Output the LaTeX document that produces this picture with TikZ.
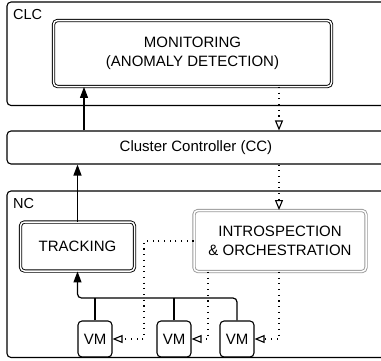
\documentclass[tikz,border=0pt]{standalone}
\usepackage{fontspec}
\setmainfont{Liberation Sans}
\usetikzlibrary{arrows.meta}
\begin{document}
\begin{tikzpicture}[x=1pt,y=-1pt,
  container/.style={draw, line width=1.1pt, rounded corners=4pt, inner sep=0pt},
  boxtext/.style={font=\fontsize{15}{19.5}\selectfont, align=center, inner sep=0pt},
  grouplabel/.style={font=\fontsize{14.5}{17}\selectfont, anchor=base west, inner sep=0pt},
  dblbox/.style={draw, line width=0.9pt, double, double distance=1.5pt, rounded corners=4pt,
    inner sep=0pt, font=\fontsize{15}{19.5}\selectfont, align=center},
  graydbl/.style={dblbox, draw=black!40},
  vmbox/.style={draw, line width=1.1pt, rounded corners=4pt, minimum width=34pt, minimum height=36pt,
    inner sep=0pt, font=\fontsize{15}{18}\selectfont},
  solidarrow/.style={line width=1.2pt, -{Triangle[length=11pt,width=8pt]}},
  dotarrow/.style={line width=1.1pt, dash pattern=on 1.1pt off 4.6pt,
    -{Triangle[open,length=10pt,width=8pt,line width=1.1pt]}},
]
\useasboundingbox (0,0) rectangle (381,360);
% containers
\node[container, minimum width=383pt, minimum height=103.5pt] (clc) at (198.5,53.75) {};
\node[grouplabel] (clclabel) at (13,19) {CLC};
\node[container, minimum width=378pt, minimum height=33pt] (cc) at (196,147.5) {};
\node[boxtext] (cctext) at (196,147.5) {Cluster Controller (CC)};
\node[container, minimum width=383pt, minimum height=166.5pt] (nc) at (198.5,274.25) {};
\node[grouplabel] (nclabel) at (13,208) {NC};
% inner boxes
\node[dblbox, minimum width=278pt, minimum height=66pt] (mon) at (192.5,53.5)
  {MONITORING\\(ANOMALY DETECTION)};
\node[dblbox, minimum width=114pt, minimum height=49pt] (trk) at (77.5,246.5) {TRACKING};
\node[graydbl, minimum width=172pt, minimum height=61pt] (intro) at (280,241)
  {INTROSPECTION\\\&\ ORCHESTRATION};
\node[vmbox] (vm1) at (95,339) {VM};
\node[vmbox] (vm2) at (174,339) {VM};
\node[vmbox] (vm3) at (237,339) {VM};
% helper coordinates
\coordinate (mx) at (84,0);
\coordinate (dx) at (279,0);
\coordinate (bus) at (77.5,298);
\coordinate (d1) at (144,339);
\coordinate (d2) at (208,339);
\coordinate (d3) at (279,339);
% solid arrows
\draw[solidarrow] (trk.north) -- (trk.north |- cc.south);
\draw[solidarrow] (cc.north -| mx) -- (mon.south -| mx);
\draw[solidarrow, rounded corners=4pt] (vm3.north) |- (bus) -- (trk.south);
\draw[line width=1.2pt] (vm1.north) -- (vm1.north |- bus);
\draw[line width=1.2pt] (vm2.north) -- (vm2.north |- bus);
% dotted arrows
\draw[dotarrow] (mon.south -| dx) -- (cc.north -| dx);
\draw[dotarrow] (cc.south -| dx) -- (intro.north -| dx);
\draw[dotarrow] (intro.west) -| (d1) -- (vm1.east);
\draw[dotarrow] (intro.south -| d2) -- (d2) -- (vm2.east);
\draw[dotarrow] (intro.south -| d3) -- (d3) -- (vm3.east);
\end{tikzpicture}
\end{document}
